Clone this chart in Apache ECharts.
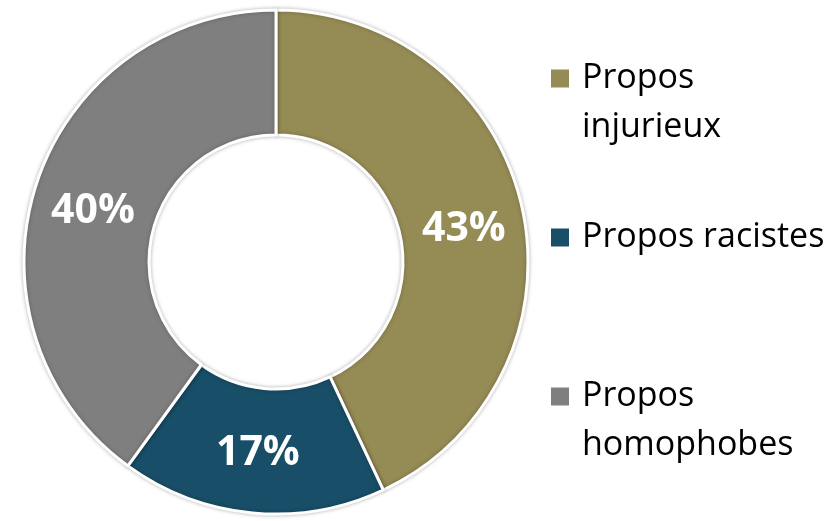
<!DOCTYPE html>
<html>
<head>
<meta charset="utf-8">
<script src="https://cdn.jsdelivr.net/npm/echarts@6/dist/echarts.min.js"></script>
<style>
html,body{margin:0;padding:0;background:#fff;}
#chart{width:833px;height:521px;}
</style>
</head>
<body>
<div id="chart"></div>
<script>
const categories = ['Propos\ninjurieux', 'Propos racistes', 'Propos\nhomophobes'];
const values = [43, 17, 40];
const colors = ['#958B55', '#184E67', '#7F7F7F'];

const chart = echarts.init(document.getElementById('chart'), null, {renderer: 'canvas'});
const LH = 49;
const FS = 34;
function legendFor(i, markerCenter) {
  const lines = categories[i].split('\n').length;
  const total = lines + (lines - 1);
  const boxH = total * LH;
  return {
    data: [categories[i]],
    orient: 'vertical',
    left: 551,
    top: markerCenter - boxH / 2,
    padding: 0,
    icon: 'rect',
    itemWidth: 18,
    itemHeight: 18,
    itemStyle: {borderWidth: 0, shadowBlur: 0},
    selectedMode: false,
    formatter: function (name) {
      const n = name.split('\n').length;
      return '\u00a0\n'.repeat(n - 1) + name;
    },
    textStyle: {
      fontFamily: 'Open Sans',
      fontSize: FS,
      lineHeight: LH,
      color: '#000',
      padding: [0, 0, 0, 8]
    }
  };
}
chart.setOption({
  animation: false,
  color: colors,
  legend: [legendFor(0, 78.5), legendFor(1, 237.5), legendFor(2, 396.5)],
  series: [{
    type: 'pie',
    center: [276, 262],
    radius: [127, 252],
    startAngle: 90,
    clockwise: true,
    avoidLabelOverlap: false,
    itemStyle: {
      borderColor: '#fff',
      borderWidth: 3,
      shadowBlur: 4,
      shadowColor: 'rgba(0,0,0,0.25)'
    },
    label: {
      show: true,
      position: 'inside',
      formatter: '{c}%',
      color: '#fff',
      fontFamily: 'Open Sans',
      fontWeight: 'bold',
      fontSize: 41
    },
    labelLayout: function (p) {
      return p.dataIndex === 1 ? {} : {dy: 9};
    },
    labelLine: {show: false},
    emphasis: {disabled: true},
    data: categories.map((c, i) => ({name: c, value: values[i]}))
  }]
});
</script>
</body>
</html>
